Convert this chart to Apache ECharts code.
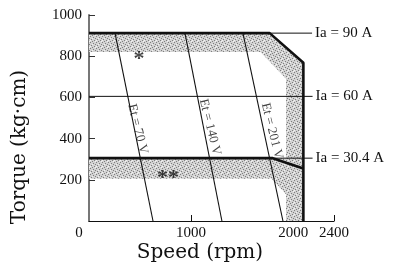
<!DOCTYPE html>
<html>
<head>
<meta charset="utf-8">
<script src="https://cdn.jsdelivr.net/npm/echarts@6/dist/echarts.min.js"></script>
<style>
    html, body { margin: 0; padding: 0; background: #fff; }
    #chart { width: 397px; height: 267px; }
</style>
</head>
<body>
<div id="chart"></div>
<script>
// axis ticks
const xLabelValues = [0, 1000, 2000, 2400];
const xTickValues = [1000, 2400];
const yInterval = 200;

// [speed rpm, torque kg·cm]
const envelope = [[0, 912], [1770, 912], [2100, 768], [2100, 0]];
const lowLimit = [[0, 305], [1800, 305], [2100, 255]];
const ia90 = [[1770, 912], [2185, 912]];
const ia60 = [[0, 605], [2190, 605]];
const ia304 = [[1800, 305], [2190, 305]];
const iaNames = ['Ia = 90 A', 'Ia = 60 A', 'Ia = 30.4 A'];

const et70 = [[255, 912], [627, 0]];
const et140 = [[940, 912], [1302, 0]];
const et201 = [[1508, 912], [1900, 0]];
const etNames = ['Et = 70 V', 'Et = 140 V', 'Et = 201 V'];
const etLabelAt = [[477, 447], [1185, 456], [1792, 437]];

// stippled zones
const shadeTop = [[0, 912], [1770, 912], [2100, 768], [2100, 0], [1930, 0], [1930, 690], [1680, 820], [0, 820]];
const shadeBottom = [[0, 305], [1930, 305], [1930, 130], [1790, 205], [0, 205]];

const starNames = ['*', '**'];
const starAt = [[490, 785], [774, 205]];

const serif = '"Liberation Serif", "DejaVu Serif", serif';

// small fixed stipple tile
function stippleTile() {
    const c = document.createElement('canvas');
    c.width = 6; c.height = 6;
    const g = c.getContext('2d');
    g.fillStyle = '#d2d2d2';
    g.fillRect(0, 0, 6, 6);
    g.fillStyle = '#7e7e7e';
    [[0, 0], [3, 1], [1, 3], [4, 4], [5, 2], [2, 5]].forEach(p => g.fillRect(p[0], p[1], 1, 1));
    g.fillStyle = '#f2f2f2';
    [[2, 2], [5, 5], [0, 4]].forEach(p => g.fillRect(p[0], p[1], 1, 1));
    return c;
}
const tile = stippleTile();

function shadeSeries(pts) {
    return {
        type: 'custom', silent: true, z: 1,
        data: [0],
        renderItem: (params, api) => ({
            type: 'polygon',
            shape: { points: pts.map(p => api.coord(p)) },
            style: { fill: { image: tile, repeat: 'repeat' } }
        })
    };
}

function lineSeries(data, width, name) {
    const s = {
        type: 'line', data, symbol: 'none', z: 3, silent: true,
        lineStyle: { color: '#111', width }
    };
    if (name) {
        s.name = name;
        s.endLabel = { show: true, formatter: name, distance: 3, color: '#111', fontFamily: serif, fontSize: 15 };
    }
    return s;
}

const chart = echarts.init(document.getElementById('chart'));
chart.setOption({
    animation: false,
    backgroundColor: '#fff',
    grid: { left: 89, right: 63, top: 15, bottom: 46 },
    xAxis: {
        type: 'value', min: 0, max: 2400,
        axisLine: { lineStyle: { color: '#111', width: 1.2 } },
        axisTick: { inside: true, length: 6, customValues: xTickValues, lineStyle: { color: '#111' } },
        axisLabel: {
            customValues: xLabelValues, margin: 5, color: '#111', fontFamily: serif, fontSize: 15,
            formatter: v => v === 0 ? '{z|0}' : String(v),
            rich: { z: { padding: [0, 20, 0, 0], fontFamily: serif, fontSize: 15, color: '#111' } }
        },
        splitLine: { show: false }
    },
    yAxis: {
        type: 'value', min: 0, max: 1000, interval: yInterval,
        axisLine: { show: true, lineStyle: { color: '#777', width: 2 } },
        axisTick: { show: true, inside: true, length: 6, lineStyle: { color: '#333' } },
        axisLabel: {
            showMinLabel: false, margin: 7, color: '#111', fontFamily: serif, fontSize: 15,
            formatter: v => String(v)
        },
        splitLine: { show: false }
    },
    graphic: [
        { type: 'text', x: 20, y: 147, rotation: Math.PI / 2,
          style: { text: 'Torque (kg·cm)', fill: '#111', font: '20px "DejaVu Serif", serif', align: 'center', verticalAlign: 'middle' } },
        { type: 'text', x: 200, y: 253,
          style: { text: 'Speed (rpm)', fill: '#111', font: '20px "DejaVu Serif", serif', align: 'center', verticalAlign: 'middle' } }
    ],
    series: [
        shadeSeries(shadeTop),
        shadeSeries(shadeBottom),
        lineSeries(ia90, 1, iaNames[0]),
        lineSeries(ia60, 1, iaNames[1]),
        lineSeries(ia304, 1, iaNames[2]),
        lineSeries(et70, 1.1),
        lineSeries(et140, 1.1),
        lineSeries(et201, 1.1),
        lineSeries(envelope, 2.6),
        lineSeries(lowLimit, 2.6),
        {
            type: 'scatter', symbolSize: 0, z: 4, silent: true,
            data: etLabelAt.map((p, i) => ({ value: p, name: etNames[i] })),
            label: {
                show: true, position: 'inside', rotate: -76, formatter: '{b}',
                color: '#111', fontFamily: serif, fontSize: 13
            }
        },
        {
            type: 'scatter', symbolSize: 0, z: 4, silent: true,
            data: starAt.map((p, i) => ({ value: p, name: starNames[i] })),
            label: {
                show: true, position: 'inside', formatter: '{b}',
                color: '#111', fontFamily: serif, fontSize: 22, fontWeight: 'bold'
            }
        }
    ]
});
</script>
</body>
</html>
